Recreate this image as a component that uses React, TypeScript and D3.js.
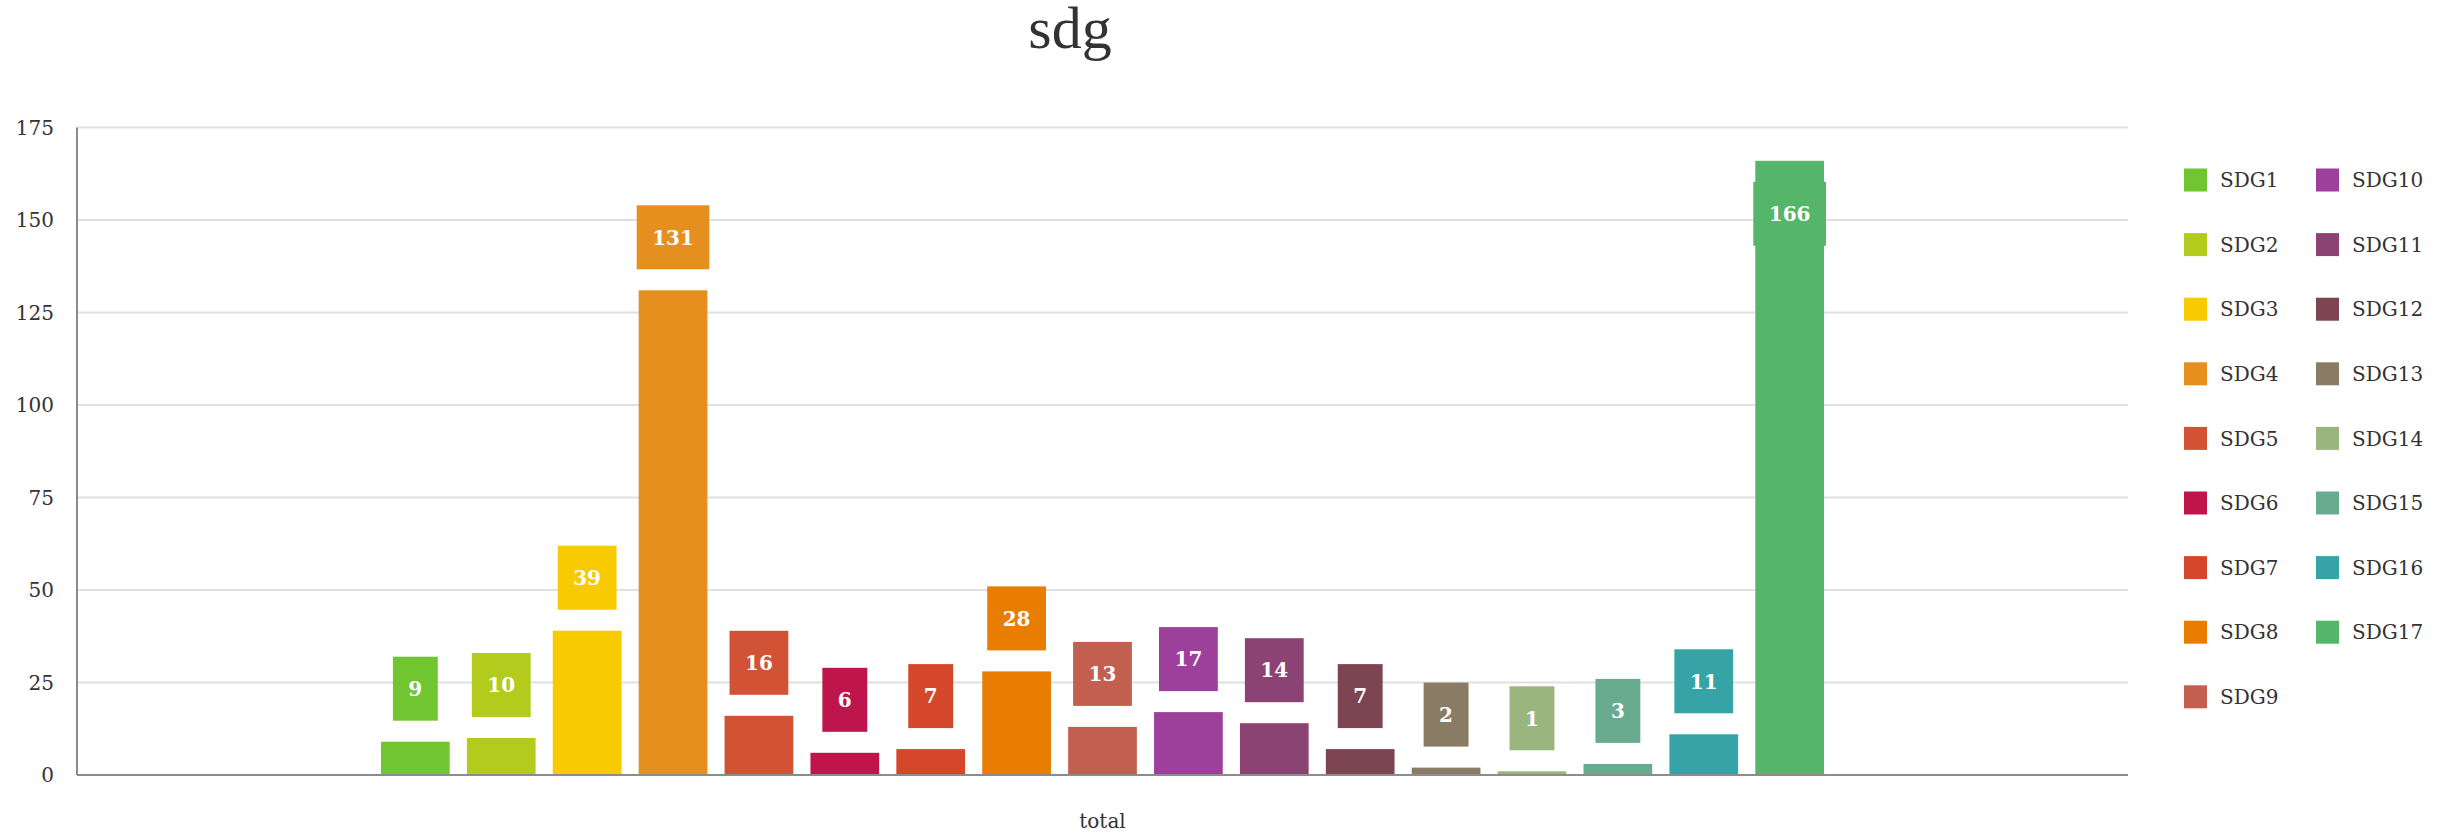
import React from 'react';
import * as d3 from 'd3';

const categories = ['total'];
const seriesNames = [
  'SDG1', 'SDG2', 'SDG3', 'SDG4', 'SDG5', 'SDG6', 'SDG7', 'SDG8', 'SDG9',
  'SDG10', 'SDG11', 'SDG12', 'SDG13', 'SDG14', 'SDG15', 'SDG16', 'SDG17',
];
const seriesValues = [9, 10, 39, 131, 16, 6, 7, 28, 13, 17, 14, 7, 2, 1, 3, 11, 166];
const seriesColors = [
  '#71c531', '#b3cb1c', '#f7cb00', '#e48f1e', '#d25235', '#bd154c', '#d4472b', '#e87d00', '#c25f50',
  '#9c409c', '#8b4373', '#7d4452', '#8a7b65', '#9bb57e', '#68ab8f', '#36a3a6', '#55b56b',
];
const yTicks = [0, 25, 50, 75, 100, 125, 150, 175];

const W = 2440;
const H = 835;
const margin = { left: 77, right: 312, top: 127.5, bottom: 60 };
const serif = '"DejaVu Serif", serif';

export default function App() {
  const plotLeft = margin.left;
  const plotRight = W - margin.right;
  const plotTop = margin.top;
  const plotBottom = H - margin.bottom;

  const y = d3.scaleLinear().domain([0, 175]).range([plotBottom, plotTop]);
  const x0 = d3.scaleBand<string>().domain(categories).range([plotLeft, plotRight]).padding(0.174);
  const x1 = d3
    .scaleBand<string>()
    .domain(seriesNames)
    .range([0, x0.bandwidth()])
    .paddingInner(0.2)
    .paddingOuter(0);

  const labelGap = 21;
  const boxH = 64;

  return (
    <svg
      width={W}
      height={H}
      style={{ position: 'absolute', left: 0, top: 0, background: '#fff' }}
    >
      {/* title */}
      <text
        x={1070}
        y={48}
        textAnchor="middle"
        fontFamily='"Liberation Serif", serif'
        fontSize={60}
        fill="#333"
      >
        sdg
      </text>

      {/* grid + y ticks */}
      {yTicks.map((t) => (
        <g key={t}>
          {t > 0 && (
            <line x1={plotLeft} x2={plotRight} y1={y(t)} y2={y(t)} stroke="#e0e0e0" strokeWidth={2} />
          )}
          <text
            x={plotLeft - 23}
            y={y(t)}
            dy="0.36em"
            textAnchor="end"
            fontFamily={serif}
            fontSize={20}
            fill="#333"
          >
            {t}
          </text>
        </g>
      ))}

      {/* bars */}
      {categories.map((c) => (
        <g key={c} transform={`translate(${x0(c)},0)`}>
          {seriesNames.map((s, i) => {
            const v = seriesValues[i];
            const bx = x1(s)!;
            const bw = x1.bandwidth();
            const top = y(v);
            return (
              <rect key={s} x={bx} y={top} width={bw} height={y(0) - top} fill={seriesColors[i]} />
            );
          })}
          {seriesNames.map((s, i) => {
            const v = seriesValues[i];
            const label = String(v);
            const boxW = label.length * 13.9 + 31;
            const cx = x1(s)! + x1.bandwidth() / 2;
            const top = y(v);
            let boxTop = top - labelGap - boxH;
            if (boxTop < plotTop) boxTop = top + labelGap;
            return (
              <g key={s + '-label'}>
                <rect x={cx - boxW / 2} y={boxTop} width={boxW} height={boxH} fill={seriesColors[i]} />
                <text
                  x={cx}
                  y={boxTop + boxH / 2}
                  dy="0.36em"
                  textAnchor="middle"
                  fontFamily={serif}
                  fontWeight="bold"
                  fontSize={20}
                  fill="#fff"
                >
                  {label}
                </text>
              </g>
            );
          })}
        </g>
      ))}

      {/* axes */}
      <line x1={plotLeft} x2={plotLeft} y1={plotTop} y2={plotBottom} stroke="#8c8c8c" strokeWidth={2} />
      <line x1={plotLeft} x2={plotRight} y1={plotBottom} y2={plotBottom} stroke="#8c8c8c" strokeWidth={2} />
      {categories.map((c) => (
        <text
          key={c}
          x={x0(c)! + x0.bandwidth() / 2}
          y={828}
          textAnchor="middle"
          fontFamily={serif}
          fontSize={20}
          fill="#333"
        >
          {c}
        </text>
      ))}

      {/* legend */}
      {seriesNames.map((s, i) => {
        const col = Math.floor(i / 9);
        const row = i % 9;
        const lx = 2184 + col * 132;
        const ly = 180 + row * 64.6;
        return (
          <g key={s + '-leg'}>
            <rect x={lx} y={ly - 11.5} width={23} height={23} fill={seriesColors[i]} />
            <text x={lx + 36} y={ly} dy="0.36em" fontFamily={serif} fontSize={20} fill="#333">
              {s}
            </text>
          </g>
        );
      })}
    </svg>
  );
}
